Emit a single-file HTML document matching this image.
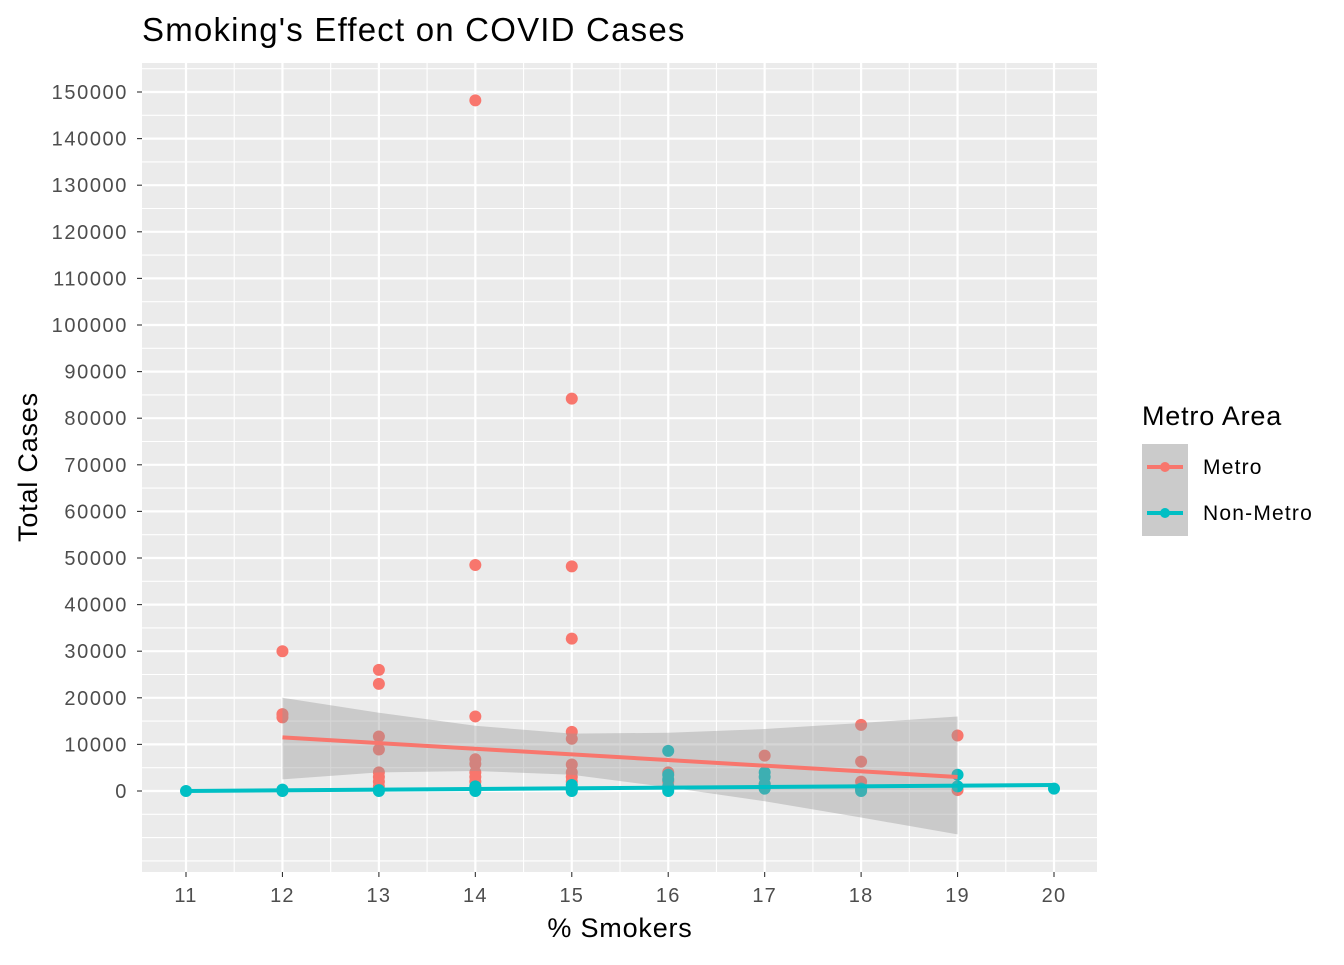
<!DOCTYPE html>
<html><head><meta charset="utf-8"><style>
body{margin:0;background:#fff;font-family:"Liberation Sans",sans-serif}
</style></head><body>
<svg id="chart" width="1344" height="960" xmlns="http://www.w3.org/2000/svg" font-family="Liberation Sans, sans-serif">
<text x="142" y="41" font-size="33" letter-spacing="1.2" fill="#000">Smoking's Effect on COVID Cases</text>
<rect x="142" y="63" width="955" height="809" fill="#ebebeb"/>
<g id="grid"></g>
<g id="points"></g>
<g id="band"></g>
<g id="lines"></g>
<g id="axes"></g>
<text x="620" y="937" font-size="27" letter-spacing="0.8" text-anchor="middle">% Smokers</text>
<text transform="translate(37,467) rotate(-90)" font-size="27" letter-spacing="0.8" text-anchor="middle">Total Cases</text>
<g>
<text x="1142" y="425" font-size="27" letter-spacing="0.8">Metro Area</text>
<g>
<rect x="1142" y="444" width="46" height="46" fill="#cbcbcb"/>
<line x1="1147" y1="467" x2="1183" y2="467" stroke="#F8766D" stroke-width="4"/>
<circle cx="1165" cy="467" r="5" fill="#F8766D"/>
<text x="1203" y="474" font-size="21" letter-spacing="1.2">Metro</text></g>
<g>
<rect x="1142" y="490" width="46" height="46" fill="#cbcbcb"/>
<line x1="1147" y1="513" x2="1183" y2="513" stroke="#00BFC4" stroke-width="4"/>
<circle cx="1165" cy="513" r="5" fill="#00BFC4"/>
<text x="1203" y="520" font-size="21" letter-spacing="1.2">Non-Metro</text></g>
</g>
</svg>
<script>
const xTicks=[11,12,13,14,15,16,17,18,19,20];
const yTicks=[0,10000,20000,30000,40000,50000,60000,70000,80000,90000,100000,110000,120000,130000,140000,150000];
const metroX=[12,12,12,12,13,13,13,13,13,13,13,13,13,14,14,14,14,14,14,14,14,14,14,15,15,15,15,15,15,15,15,15,15,15,16,16,16,17,17,18,18,18,18,19,19];
const metroY=[30000,16500,15800,200,26000,23000,11700,8900,4000,3000,2000,1000,300,148200,48500,16000,6800,5800,4000,3000,2000,1000,500,84200,48200,32700,12700,11200,5700,4000,3000,2000,500,300,4000,2000,500,7600,1500,14200,6300,2000,300,11900,200];
const nonX=[11,12,12,13,13,14,14,14,15,15,15,15,16,16,16,16,16,17,17,17,17,18,18,19,19,20];
const nonY=[0,300,0,0,200,0,500,1000,0,500,1300,300,8600,3500,2500,1000,0,4000,3000,1500,500,500,0,3500,1000,500];
const metroFitX=[12,19];
const metroFitY=[11500,3000];
const nonFitX=[11,20];
const nonFitY=[0,1300];
const bandX=[12,13,14,15,16,17,18,19];
const bandUpper=[20000,16800,14000,12300,12500,13300,14600,16000];
const bandLower=[2500,4000,4300,3500,800,-2200,-5700,-9300];
const X=v=>186+(v-11)*(1054-186)/9;
const Y=v=>791-v*(791-92)/150000;
const NS="http://www.w3.org/2000/svg";
function mk(p,t,a){const e=document.createElementNS(NS,t);for(const k in a)e.setAttribute(k,a[k]);document.getElementById(p).appendChild(e);return e;}
for(let i=0;i<xTicks.length;i++){
 const g=mk('grid','line',{x1:X(xTicks[i]),x2:X(xTicks[i]),y1:63,y2:872,stroke:'#fff','stroke-width':2.2});
 
 
 if(i<xTicks.length-1){const m=mk('grid','line',{x1:X(xTicks[i]+0.5),x2:X(xTicks[i]+0.5),y1:63,y2:872,stroke:'#fff','stroke-width':1.1});
 
 }
 const t=mk('axes','text',{x:X(xTicks[i]),y:902,'font-size':20,'letter-spacing':1.2,'text-anchor':'middle',fill:'#4d4d4d'});t.textContent=xTicks[i];
 
 
 mk('axes','line',{x1:X(xTicks[i]),x2:X(xTicks[i]),y1:872,y2:877,stroke:'#333','stroke-width':1.1});
}
for(let v=-15000;v<=155000;v+=5000){
 const y=Y(v);if(y<63||y>872)continue;
 const major=v%10000===0&&v>=0;
 const g=mk('grid','line',{x1:142,x2:1097,y1:y,y2:y,stroke:'#fff','stroke-width':major?2.2:1.1});
 
 
}
for(const v of yTicks){
 const t=mk('axes','text',{x:128,y:Y(v)+7,'font-size':20,'letter-spacing':1.6,'text-anchor':'end',fill:'#4d4d4d'});t.textContent=v;
 
 
 mk('axes','line',{x1:137,x2:142,y1:Y(v),y2:Y(v),stroke:'#333','stroke-width':1.1});
}
let d='';
bandX.forEach((x,i)=>d+=(i?'L':'M')+X(x)+','+Y(bandUpper[i]));
for(let i=bandX.length-1;i>=0;i--)d+='L'+X(bandX[i])+','+Y(bandLower[i]);
const b=mk('band','path',{d:d+'Z',fill:'#999','fill-opacity':0.4});


metroX.forEach((x,i)=>{const c=mk('points','circle',{cx:X(x),cy:Y(metroY[i]),r:6,fill:'#F8766D'});
 
 });
nonX.forEach((x,i)=>{const c=mk('points','circle',{cx:X(x),cy:Y(nonY[i]),r:6,fill:'#00BFC4'});
 
 });
const l1=mk('lines','line',{x1:X(metroFitX[0]),y1:Y(metroFitY[0]),x2:X(metroFitX[1]),y2:Y(metroFitY[1]),stroke:'#F8766D','stroke-width':4});


const l2=mk('lines','line',{x1:X(nonFitX[0]),y1:Y(nonFitY[0]),x2:X(nonFitX[1]),y2:Y(nonFitY[1]),stroke:'#00BFC4','stroke-width':4});


</script>
</body></html>
